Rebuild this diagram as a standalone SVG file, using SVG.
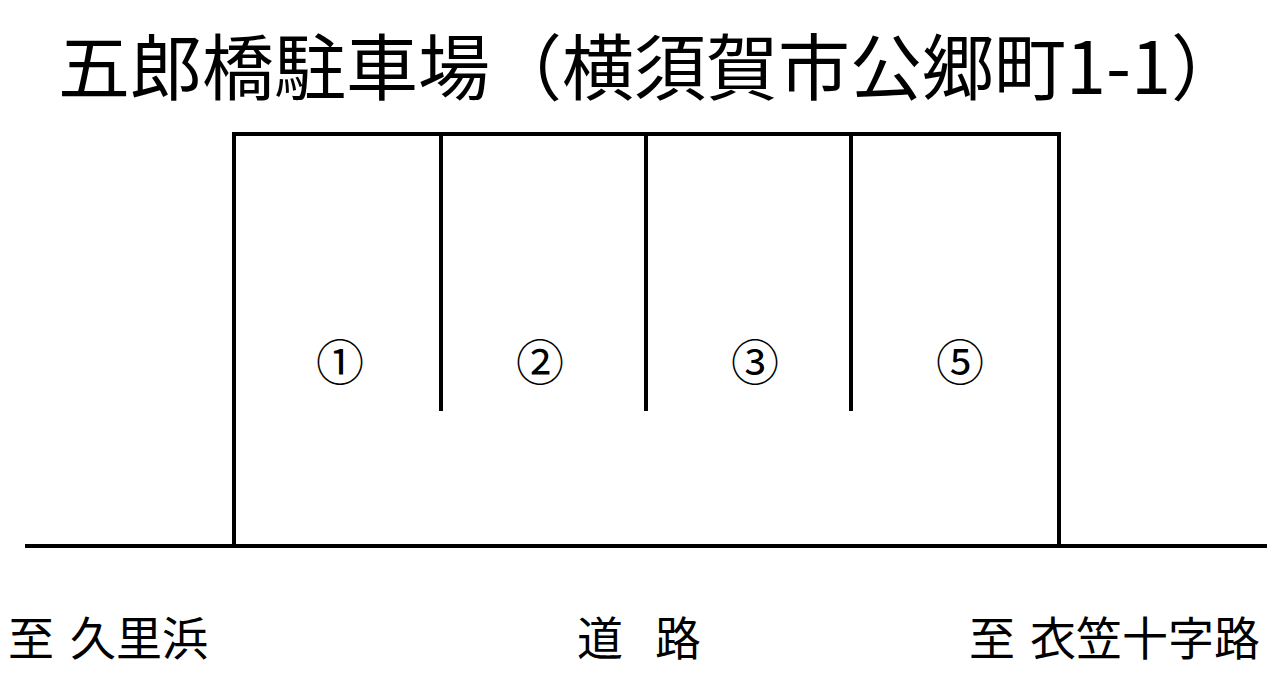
<svg xmlns="http://www.w3.org/2000/svg" width="1275" height="675" viewBox="0 0 1275 675">
<style>
.ln{stroke:#000;stroke-width:4;fill:none;stroke-linecap:square}
.t{font-family:"Noto Sans CJK JP","Noto Sans CJK SC",sans-serif;fill:#000}
</style>
<rect width="1275" height="675" fill="#fff"/>
<g id="title"><text class="t" x="58" y="94" font-size="72">五郎橋駐車場（横須賀市公郷町1-1）</text></g>
<g id="lot" class="ln">
<path d="M234 546 V134 H1059 V546"/>
<path d="M441 134 V409 M646 134 V409 M851 134 V409"/>
</g>
<g id="road" class="ln"><path d="M27 546 H1265"/></g>
<g id="space1"><text class="t" x="340" y="380" font-size="48" text-anchor="middle">①</text></g>
<g id="space2"><text class="t" x="540" y="380" font-size="48" text-anchor="middle">②</text></g>
<g id="space3"><text class="t" x="755" y="380" font-size="48" text-anchor="middle">③</text></g>
<g id="space5"><text class="t" x="960" y="380" font-size="48" text-anchor="middle">⑤</text></g>
<g id="labels">
<text class="t" font-size="46" y="655"><tspan x="8">至</tspan><tspan x="70">久里浜</tspan></text>
<text class="t" font-size="46" y="655"><tspan x="577">道</tspan><tspan x="655">路</tspan></text>
<text class="t" font-size="46" y="655"><tspan x="969">至</tspan><tspan x="1030">衣笠十字路</tspan></text>
</g>
</svg>
